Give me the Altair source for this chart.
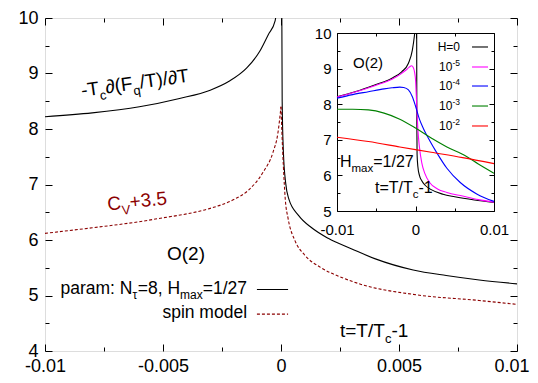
import altair as alt
import pandas as pd

# ---------------- data ----------------
param_left_t = [-0.010, -0.008, -0.006, -0.0043, -0.003, -0.0022, -0.00145, -0.0009, -0.00054, -0.00025, -0.00012]
param_left_v = [8.22, 8.29, 8.40, 8.55, 8.70, 8.86, 9.10, 9.40, 9.70, 9.95, 10.4]
param_right_t = [0.00003, 0.00005, 0.0001, 0.0002, 0.00033, 0.00075, 0.0013, 0.002, 0.003, 0.004, 0.0056, 0.007, 0.0084, 0.010]
param_right_v = [10.6, 8.50, 7.60, 7.02, 6.74, 6.44, 6.22, 6.03, 5.84, 5.66, 5.46, 5.36, 5.28, 5.21]

spin_left_t = [-0.010, -0.008, -0.006, -0.005, -0.004, -0.003, -0.002, -0.0014, -0.00076, -0.00034, -0.00013, 0.0]
spin_left_v = [6.12, 6.22, 6.33, 6.40, 6.47, 6.57, 6.73, 6.89, 7.22, 7.58, 7.93, 8.40]
spin_right_t = [0.0, 0.00004, 0.0001, 0.00018, 0.0003, 0.0006, 0.001, 0.0017, 0.0026, 0.0034, 0.0056, 0.0084, 0.010]
spin_right_v = [8.40, 7.93, 7.34, 6.74, 6.39, 5.98, 5.73, 5.50, 5.32, 5.20, 5.02, 4.91, 4.84]

h0_left_t = [-0.010, -0.0077, -0.0052, -0.003, -0.00176, -0.0009, -0.0004, -0.00015, -0.0001]
h0_left_v = [8.21, 8.35, 8.54, 8.73, 8.91, 9.15, 9.52, 9.90, 10.0]
h0_right_t = [0.00015, 0.00017, 0.0002, 0.0003, 0.0005, 0.0008, 0.0012, 0.002, 0.0035, 0.005, 0.0075, 0.010]
h0_right_v = [10.0, 7.5, 6.6, 6.25, 6.0, 5.85, 5.73, 5.60, 5.47, 5.40, 5.31, 5.24]

h5_t = [-0.010, -0.0077, -0.0052, -0.003, -0.0018, -0.0012, -0.0008, -0.0005, -0.0003, -0.0001, 0.0,
        0.00015, 0.0003, 0.0005, 0.0008, 0.0012, 0.0018, 0.0028, 0.004, 0.006, 0.008, 0.010]
h5_v = [8.20, 8.34, 8.52, 8.70, 8.86, 8.96, 9.04, 9.08, 9.04, 8.88, 8.70,
        8.00, 7.30, 6.80, 6.35, 6.05, 5.80, 5.62, 5.52, 5.42, 5.32, 5.25]

h4_t = [-0.010, -0.008, -0.006, -0.004, -0.003, -0.002, -0.0015, -0.0009, -0.0004, 0.0,
        0.0005, 0.001, 0.0018, 0.0027, 0.004, 0.0057, 0.0078, 0.010]
h4_v = [8.17, 8.27, 8.35, 8.43, 8.46, 8.48, 8.47, 8.40, 8.21, 7.95,
        7.58, 7.32, 6.98, 6.64, 6.20, 5.80, 5.48, 5.27]

h3_t = [-0.010, -0.008, -0.006, -0.004, -0.002, 0.0, 0.002, 0.004, 0.0065, 0.008, 0.010]
h3_v = [7.86, 7.86, 7.84, 7.75, 7.58, 7.33, 7.05, 6.80, 6.53, 6.32, 6.06]

h2_t = [-0.010, -0.006, -0.002, 0.002, 0.006, 0.010]
h2_v = [7.07, 6.95, 6.80, 6.65, 6.50, 6.33]

series = ["H=0", "1e-5", "1e-4", "1e-3", "1e-2"]
series_colors = ["#000000", "#ff00ff", "#0000ff", "#008000", "#ff0000"]

main_x_ticks = [-0.01, -0.0075, -0.005, -0.0025, 0.0, 0.0025, 0.005, 0.0075, 0.01]
main_y_ticks = [4, 4.5, 5, 5.5, 6, 6.5, 7, 7.5, 8, 8.5, 9, 9.5, 10]
inset_x_ticks = [-0.01, -0.005, 0.0, 0.005, 0.01]
inset_y_ticks = [5, 5.5, 6, 6.5, 7, 7.5, 8, 8.5, 9, 9.5, 10]

# ---------------- helpers ----------------
FONT = "Liberation Sans"
W, H = 472, 333
TOP = 10
DARKRED = "#8b0000"

AW = {' ': 278, '(': 333, ')': 333, '+': 584, ',': 278, '-': 333, '.': 278, '/': 278, ':': 278,
      '=': 584, 'A': 667, 'C': 722, 'F': 611, 'H': 722, 'N': 722, 'O': 778, 'T': 611, 'V': 667,
      'a': 556, 'c': 500, 'd': 556, 'e': 556, 'i': 222, 'l': 222, 'm': 833, 'n': 556, 'o': 556,
      'p': 556, 'q': 556, 'r': 333, 's': 500, 't': 278, 'x': 500, 'τ': 440, '∂': 494}


def tw(s, size):
    return sum(AW.get(ch, 556) for ch in s) * size / 1000.0


one = pd.DataFrame({"k": [0]})

# inset plot area inside the main view (pixels from the view's top-left corner)
IN_L, IN_R = 292, 449
IN_T, IN_B = 33 - 8 - TOP, 211 - 8 - TOP

XS_MAIN = alt.Scale(domain=[-0.01, 0.01], nice=False, zero=False)
YS_MAIN = alt.Scale(domain=[4, 10], nice=False, zero=False)
XS_IN = alt.Scale(domain=[-0.01, 0.01], range=[IN_L, IN_R], nice=False, zero=False)
YS_IN = alt.Scale(domain=[5, 10], range=[IN_B, IN_T], nice=False, zero=False)


def rich(parts, t, v, xs, ys, size, sub, color="black", angle=0, align="left"):
    ws = [tw(s, size if k == "n" else sub) for s, k in parts]
    total = sum(ws)
    x0 = {"left": 0.0, "right": -total, "center": -total / 2}[align]
    out = []
    for (s, k), w in zip(parts, ws):
        fs = size if k == "n" else sub
        dy = 0 if k == "n" else (0.3 * size if k == "sub" else -0.42 * size)
        props = dict(text=s, align="left", baseline="alphabetic", dx=x0, dy=dy,
                     fontSize=fs, color=color, font=FONT)
        if angle:
            props["angle"] = angle
        out.append(alt.Chart(one).mark_text(**props).encode(
            x=alt.XDatum(t, scale=xs, axis=None),
            y=alt.YDatum(v, scale=ys, axis=None)))
        x0 += w
    return out


def mk_axis(orient, values, major, tick, minor, labels=False, fs=19, pad=0, offset=0, domain=False, extra=None):
    ax = dict(orient=orient, values=values, title=None, grid=False, domain=domain,
              domainColor="black", domainWidth=1, offset=offset,
              tickSize={"expr": str(-tick)}, tickColor="black", tickWidth=1,
              tickDash={"condition": {"test": major, "value": [30, 0]}, "value": [minor, 40]},
              labels=labels)
    if labels:
        ax.update(labelExpr=f"({major}) ? toString(datum.value) : ''", labelFontSize=fs,
                  labelFont=FONT, labelColor="black", labelPadding=pad,
                  labelFlush=False, labelOverlap=False)
    if extra:
        ax.update(extra)
    return alt.Axis(**ax)


MX = "abs(datum.value/0.005 - round(datum.value/0.005)) < 1e-6"
MY = "abs(datum.value - round(datum.value)) < 1e-6"
IX = "abs(datum.value/0.01 - round(datum.value/0.01)) < 1e-6"

# ---------------- main panel ----------------
df_param = pd.DataFrame({
    "t": param_left_t + param_right_t,
    "v": param_left_v + param_right_v,
    "branch": ["L"] * len(param_left_t) + ["R"] * len(param_right_t)})
df_spin = pd.DataFrame({
    "t": spin_left_t + spin_right_t,
    "v": spin_left_v + spin_right_v,
    "branch": ["L"] * len(spin_left_t) + ["R"] * len(spin_right_t)})

last_lab = "datum.value > 0.0099"
bottom_extra = {
    "labelAlign": {"condition": {"test": last_lab, "value": "right"}, "value": "center"},
    "labelOffset": {"condition": {"test": last_lab, "value": 12}, "value": 0},
}

black = alt.Chart(df_param).mark_line(interpolate="monotone", color="black", strokeWidth=1.1, clip=True).encode(
    x=alt.X("t:Q", scale=XS_MAIN, axis=mk_axis("bottom", main_x_ticks, MX, 7, 4, True, 18, 13, extra=bottom_extra)),
    y=alt.Y("v:Q", scale=YS_MAIN, axis=mk_axis("left", main_y_ticks, MY, 7, 4, True, 18, 14)),
    detail="branch:N")

dashed = alt.Chart(df_spin).mark_line(interpolate="monotone", color=DARKRED, strokeWidth=1.1,
                                      strokeDash=[3, 2], clip=True).encode(
    x=alt.X("t:Q", scale=XS_MAIN, axis=mk_axis("top", main_x_ticks, MX, 7, 4)),
    y=alt.Y("v:Q", scale=YS_MAIN, axis=mk_axis("right", main_y_ticks, MY, 7, 4)),
    detail="branch:N")

main_texts = []
main_texts += rich([("-T", "n"), ("c", "sub"), ("∂(F", "n"), ("q", "sub"), ("/T)/∂T", "n")],
                   -0.00843, 8.58, XS_MAIN, YS_MAIN, 19, 13, angle=352)
main_texts += rich([("C", "n"), ("V", "sub"), ("+3.5", "n")],
                   -0.00733, 6.53, XS_MAIN, YS_MAIN, 19, 13, color=DARKRED, angle=354)
main_texts += rich([("O(2)", "n")], -0.00483, 5.64, XS_MAIN, YS_MAIN, 19, 13)
main_texts += rich([("t=T/T", "n"), ("c", "sub"), ("-1", "n")], 0.0025, 4.25, XS_MAIN, YS_MAIN, 19, 13)
main_texts += rich([("param: N", "n"), ("τ", "sub"), ("=8, H", "n"), ("max", "sub"), ("=1/27", "n")],
                   -0.00144, 5.033, XS_MAIN, YS_MAIN, 17.5, 12, align="right")
main_texts += rich([("spin model", "n")], -0.00144, 4.588, XS_MAIN, YS_MAIN, 17.5, 12, align="right")

leg_solid = alt.Chart(one).mark_rule(color="black", strokeWidth=1.1).encode(
    x=alt.XDatum(-0.00102, scale=XS_MAIN, axis=None), x2=alt.X2Datum(0.0003),
    y=alt.YDatum(5.109, scale=YS_MAIN, axis=None))
leg_dash = alt.Chart(one).mark_rule(color=DARKRED, strokeWidth=1.1, strokeDash=[3, 2]).encode(
    x=alt.XDatum(-0.00102, scale=XS_MAIN, axis=None), x2=alt.X2Datum(0.0003),
    y=alt.YDatum(4.665, scale=YS_MAIN, axis=None))

main = alt.layer(black, dashed, leg_solid, leg_dash, *main_texts).resolve_axis(x="independent", y="independent")

# ---------------- inset ----------------
rows = []
curves = [("H=0", "L", h0_left_t, h0_left_v), ("H=0", "R", h0_right_t, h0_right_v),
          ("1e-5", "A", h5_t, h5_v), ("1e-4", "A", h4_t, h4_v),
          ("1e-3", "A", h3_t, h3_v), ("1e-2", "A", h2_t, h2_v)]
for s, b, ts, vs in curves:
    for t, v in zip(ts, vs):
        rows.append({"series": s, "key": s + b, "t": t, "v": v})
df_in = pd.DataFrame(rows)

CS = alt.Scale(domain=series, range=series_colors)

inset_lines = alt.Chart(df_in).mark_line(interpolate="monotone", strokeWidth=1.1).encode(
    x=alt.X("t:Q", scale=XS_IN, axis=mk_axis("bottom", inset_x_ticks, IX, 5, 3, True, 15, 16,
                                             offset=IN_B - H, domain=True)),
    y=alt.Y("v:Q", scale=YS_IN, axis=mk_axis("left", inset_y_ticks, MY, 5, 3, True, 15, 11,
                                             offset=-IN_L, domain=True)),
    color=alt.Color("series:N", scale=CS, legend=None),
    detail="key:N")

leg_rows_v = [9.607, 9.045, 8.511, 7.949, 7.388]
df_leg = pd.DataFrame({"series": series, "ly": leg_rows_v})
inset_leg = alt.Chart(df_leg).mark_rule(strokeWidth=1.1).encode(
    x=alt.XDatum(0.0072, scale=XS_IN, axis=mk_axis("top", inset_x_ticks, IX, 5, 3, offset=-IN_T, domain=True)),
    x2=alt.X2Datum(0.00924),
    y=alt.Y("ly:Q", scale=YS_IN, axis=mk_axis("right", inset_y_ticks, MY, 5, 3, offset=IN_R - W, domain=True)),
    color=alt.Color("series:N", scale=CS, legend=None))

inset_texts = []
inset_texts += rich([("O(2)", "n")], -0.00796, 9.017, XS_IN, YS_IN, 15, 11)
inset_texts += rich([("H", "n"), ("max", "sub"), ("=1/27", "n")], -0.00962, 6.244, XS_IN, YS_IN, 16, 11.5)
inset_texts += rich([("t=T/T", "n"), ("c", "sub"), ("-1", "n")], -0.00516, 5.506, XS_IN, YS_IN, 16, 11.5)
leg_labels = [[("H=0", "n")], [("10", "n"), ("-5", "sup")], [("10", "n"), ("-4", "sup")],
              [("10", "n"), ("-3", "sup")], [("10", "n"), ("-2", "sup")]]
for parts, lv in zip(leg_labels, leg_rows_v):
    inset_texts += rich(parts, 0.00567, lv - 0.112, XS_IN, YS_IN, 12, 8.5, align="right")

inset = alt.layer(inset_lines, inset_leg, *inset_texts).resolve_axis(x="independent", y="independent")

chart = alt.layer(main, inset).resolve_scale(
    x="independent", y="independent", color="independent"
).properties(
    width=W, height=H,
    padding={"left": 37, "top": TOP, "right": 13, "bottom": 24},
    autosize=alt.AutoSizeParams(type="none"),
).configure_view(stroke="black", strokeWidth=1).configure(font=FONT, background="white")

chart.save("out.html", embed_options={"renderer": "svg", "actions": False})
